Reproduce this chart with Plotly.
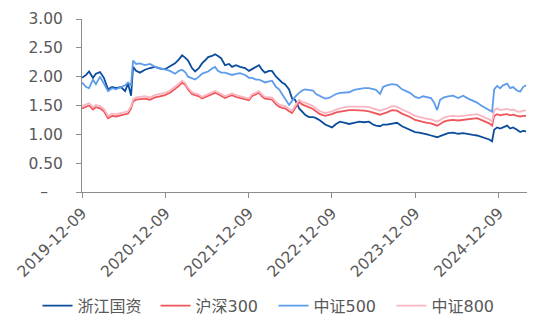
import plotly.graph_objects as go

dates = [
    "2019-12-09", "2019-12-27", "2020-01-09", "2020-01-26", "2020-02-08", "2020-02-26",
    "2020-03-14", "2020-04-01", "2020-04-19", "2020-05-06", "2020-05-28", "2020-06-15",
    "2020-06-28", "2020-07-11", "2020-07-20", "2020-08-02", "2020-08-19", "2020-09-10",
    "2020-10-02", "2020-10-24", "2020-11-15", "2020-12-07", "2020-12-29", "2021-01-20",
    "2021-02-06", "2021-02-20", "2021-03-05", "2021-03-18", "2021-04-04", "2021-04-18",
    "2021-05-05", "2021-05-18", "2021-05-31", "2021-06-14", "2021-07-01", "2021-07-14",
    "2021-07-27", "2021-08-10", "2021-08-27", "2021-09-14", "2021-09-27", "2021-10-14",
    "2021-11-01", "2021-11-23", "2021-12-10", "2021-12-23", "2022-01-10", "2022-01-23",
    "2022-02-05", "2022-02-18", "2022-03-08", "2022-03-21", "2022-04-08", "2022-04-21",
    "2022-05-04", "2022-05-17", "2022-06-04", "2022-06-17", "2022-06-30", "2022-07-18",
    "2022-07-31", "2022-08-13", "2022-08-30", "2022-09-17", "2022-09-30", "2022-10-18",
    "2022-11-09", "2022-11-26", "2022-12-09", "2022-12-27", "2023-01-13", "2023-02-04",
    "2023-02-22", "2023-03-16", "2023-04-07", "2023-04-29", "2023-05-20", "2023-06-07",
    "2023-06-20", "2023-07-08", "2023-07-21", "2023-08-07", "2023-08-29", "2023-09-20",
    "2023-10-12", "2023-10-30", "2023-11-16", "2023-12-08", "2023-12-26", "2024-01-12",
    "2024-01-30", "2024-02-16", "2024-03-01", "2024-03-14", "2024-03-27", "2024-04-13",
    "2024-05-01", "2024-05-23", "2024-06-14", "2024-07-06", "2024-07-28", "2024-08-18",
    "2024-09-05", "2024-09-23", "2024-10-10", "2024-10-28", "2024-11-10", "2024-11-19",
    "2024-12-02", "2024-12-15", "2024-12-28", "2025-01-15", "2025-01-28", "2025-02-10",
    "2025-02-27", "2025-03-13", "2025-03-26", "2025-04-08",
]

zhejiang_soe = [
    1.98, 2.03, 2.09, 1.98, 2.05, 2.08, 1.98, 1.78, 1.82, 1.80, 1.82, 1.75,
    1.88, 1.67, 2.17, 2.10, 2.07, 2.12, 2.15, 2.17, 2.14, 2.13, 2.18, 2.23,
    2.30, 2.37, 2.33, 2.28, 2.15, 2.09, 2.15, 2.23, 2.28, 2.34, 2.36, 2.39,
    2.36, 2.32, 2.20, 2.22, 2.17, 2.20, 2.17, 2.15, 2.10, 2.13, 2.18, 2.20,
    2.12, 2.07, 2.10, 2.10, 2.00, 1.95, 1.90, 1.87, 1.78, 1.62, 1.60, 1.45,
    1.40, 1.34, 1.30, 1.30, 1.28, 1.24, 1.17, 1.14, 1.12, 1.18, 1.22, 1.20,
    1.18, 1.20, 1.22, 1.21, 1.22, 1.17, 1.15, 1.14, 1.17, 1.17, 1.19, 1.20,
    1.14, 1.11, 1.08, 1.04, 1.03, 1.02, 1.00, 0.98, 0.96, 0.95, 0.97, 1.00,
    1.02, 1.03, 1.01, 1.02, 1.00, 0.99, 0.98, 0.96, 0.94, 0.91, 0.88, 1.08,
    1.12, 1.10, 1.12, 1.15, 1.10, 1.12, 1.08, 1.04, 1.06, 1.05,
]

hs300 = [
    1.45, 1.48, 1.50, 1.43, 1.47, 1.45, 1.40, 1.28, 1.32, 1.31, 1.33, 1.35,
    1.36, 1.45, 1.57, 1.60, 1.61, 1.62, 1.60, 1.64, 1.66, 1.68, 1.72, 1.78,
    1.84, 1.90, 1.86, 1.78, 1.70, 1.68, 1.66, 1.62, 1.64, 1.67, 1.70, 1.72,
    1.70, 1.67, 1.63, 1.66, 1.68, 1.65, 1.63, 1.60, 1.59, 1.66, 1.70, 1.72,
    1.66, 1.62, 1.61, 1.60, 1.52, 1.48, 1.46, 1.45, 1.40, 1.37, 1.45, 1.56,
    1.52, 1.50, 1.47, 1.44, 1.40, 1.35, 1.32, 1.33, 1.35, 1.38, 1.39, 1.41,
    1.42, 1.42, 1.42, 1.41, 1.40, 1.38, 1.37, 1.34, 1.36, 1.38, 1.42, 1.41,
    1.36, 1.33, 1.30, 1.25, 1.23, 1.21, 1.20, 1.19, 1.17, 1.15, 1.18, 1.22,
    1.24, 1.25, 1.24, 1.25, 1.26, 1.27, 1.28, 1.25, 1.22, 1.19, 1.15, 1.32,
    1.35, 1.33, 1.34, 1.35, 1.33, 1.34, 1.32, 1.31, 1.32, 1.32,
]

csi500 = [
    1.90, 1.82, 1.80, 1.95, 1.87, 2.00, 1.88, 1.75, 1.80, 1.78, 1.82, 1.85,
    1.90, 1.85, 2.28, 2.22, 2.23, 2.20, 2.22, 2.17, 2.15, 2.12, 2.10, 2.05,
    2.10, 2.12, 2.08, 2.00, 1.97, 1.95, 2.00, 2.05, 2.07, 2.09, 2.14, 2.17,
    2.10, 2.07, 2.07, 2.05, 2.03, 2.05, 2.06, 2.03, 1.98, 1.98, 1.95, 1.95,
    1.92, 1.90, 1.92, 1.93, 1.82, 1.78, 1.70, 1.62, 1.51, 1.58, 1.65, 1.72,
    1.76, 1.78, 1.77, 1.76, 1.70, 1.66, 1.62, 1.63, 1.66, 1.70, 1.72, 1.73,
    1.73, 1.77, 1.79, 1.80, 1.80, 1.79, 1.77, 1.70, 1.82, 1.85, 1.87, 1.86,
    1.78, 1.75, 1.72, 1.65, 1.63, 1.66, 1.65, 1.63, 1.55, 1.42, 1.60, 1.64,
    1.66, 1.67, 1.63, 1.67, 1.62, 1.58, 1.55, 1.50, 1.46, 1.42, 1.39, 1.78,
    1.84, 1.80, 1.85, 1.88, 1.80, 1.82, 1.76, 1.74, 1.82, 1.85,
]

csi800 = [
    1.49, 1.52, 1.54, 1.47, 1.51, 1.49, 1.44, 1.32, 1.36, 1.35, 1.37, 1.39,
    1.40, 1.49, 1.61, 1.64, 1.65, 1.66, 1.64, 1.68, 1.70, 1.72, 1.76, 1.82,
    1.88, 1.93, 1.89, 1.81, 1.73, 1.71, 1.69, 1.65, 1.67, 1.70, 1.73, 1.75,
    1.73, 1.70, 1.66, 1.69, 1.71, 1.68, 1.66, 1.63, 1.62, 1.69, 1.73, 1.75,
    1.69, 1.65, 1.64, 1.64, 1.56, 1.52, 1.50, 1.49, 1.44, 1.41, 1.49, 1.60,
    1.56, 1.55, 1.52, 1.49, 1.45, 1.40, 1.37, 1.38, 1.40, 1.43, 1.45, 1.47,
    1.48, 1.48, 1.49, 1.48, 1.47, 1.45, 1.44, 1.41, 1.43, 1.45, 1.49, 1.48,
    1.43, 1.40, 1.37, 1.32, 1.30, 1.28, 1.27, 1.26, 1.24, 1.22, 1.25, 1.29,
    1.31, 1.32, 1.31, 1.32, 1.33, 1.34, 1.35, 1.32, 1.29, 1.26, 1.22, 1.42,
    1.45, 1.42, 1.43, 1.44, 1.42, 1.43, 1.40, 1.39, 1.41, 1.41,
]

series_names = ["浙江国资", "沪深300", "中证500", "中证800"]
series_colors = ["#0B4C9C", "#F0555B", "#5D9CEA", "#F8B6C2"]

x_tickvals = ["2019-12-09", "2020-12-09", "2021-12-09", "2022-12-09", "2023-12-09", "2024-12-09"]
x_ticktext = ["2019-12-09", "2020-12-09", "2021-12-09", "2022-12-09", "2023-12-09", "2024-12-09"]
y_tickvals = [0, 0.5, 1.0, 1.5, 2.0, 2.5, 3.0]
y_ticktext = ["–\u00a0\u00a0\u00a0", "0.50", "1.00", "1.50", "2.00", "2.50", "3.00"]

FONT = "'DejaVu Sans', 'Noto Sans CJK SC', sans-serif"

fig = go.Figure()
for name, color, vals in zip(series_names, series_colors,
                             [zhejiang_soe, hs300, csi500, csi800]):
    fig.add_trace(go.Scatter(x=dates, y=vals, mode="lines", name=name,
                             line=dict(color=color, width=1.8)))

fig.update_layout(
    width=537, height=333,
    margin=dict(l=82, r=10, t=16, b=136),
    paper_bgcolor="white", plot_bgcolor="white",
    font=dict(family=FONT, size=15.5, color="#595959"),
    showlegend=True,
    legend=dict(orientation="h", x=-0.1, xanchor="left", y=-0.657, yanchor="middle",
                entrywidth=73, entrywidthmode="pixels",
                font=dict(family=FONT, size=16, color="#595959"),
                bgcolor="rgba(0,0,0,0)"),
    xaxis=dict(type="date", range=["2019-12-09", "2025-04-12"],
               tickmode="array", tickvals=x_tickvals, ticktext=x_ticktext,
               tickangle=-45, ticks="outside", ticklen=5, tickcolor="#8C8C8C",
               showline=True, linecolor="#8C8C8C", linewidth=1,
               showgrid=False, zeroline=False,
               tickfont=dict(family=FONT, size=15.5, color="#595959")),
    yaxis=dict(range=[0, 3], tickmode="array", tickvals=y_tickvals, ticktext=y_ticktext,
               ticks="outside", ticklen=5, tickcolor="#8C8C8C",
               showline=True, linecolor="#8C8C8C", linewidth=1,
               showgrid=False, zeroline=False, ticklabelstandoff=10,
               tickfont=dict(family=FONT, size=15.5, color="#595959")),
)

fig.write_html("out.html")
